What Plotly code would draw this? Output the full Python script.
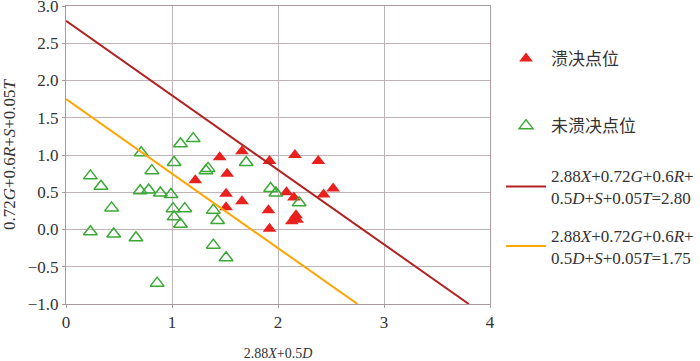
import plotly.graph_objects as go

# 溃决点位 (breached sites)
breach_x = [1.45, 1.66, 1.92, 2.16, 2.38, 1.22, 1.52, 1.51, 1.66, 1.51, 1.91, 1.92,
            2.08, 2.15, 2.43, 2.52, 2.13, 2.18, 2.17]
breach_y = [0.97, 1.05, 0.92, 1.00, 0.92, 0.66, 0.75, 0.48, 0.38, 0.30, 0.26, 0.01,
            0.50, 0.43, 0.47, 0.55, 0.11, 0.13, 0.19]

# 未溃决点位 (non-breached sites)
safe_x = [0.71, 1.08, 1.20, 0.23, 0.33, 0.81, 1.02, 1.32, 1.34, 1.70, 0.70, 0.78,
          0.89, 0.99, 0.43, 1.01, 1.12, 1.02, 1.08, 1.39, 1.43, 0.23, 0.45, 0.66,
          1.39, 1.51, 0.86, 1.93, 1.98, 2.20]
safe_y = [1.03, 1.15, 1.22, 0.72, 0.58, 0.79, 0.90, 0.79, 0.82, 0.90, 0.52, 0.53,
          0.49, 0.47, 0.29, 0.28, 0.28, 0.17, 0.07, 0.26, 0.12, -0.03, -0.06, -0.11,
          -0.21, -0.38, -0.72, 0.55, 0.49, 0.36]

# threshold lines: 2.88X+0.5D + (0.72G+0.6R+S+0.05T) = c
thresholds = [2.80, 1.75]
line_colors = ["#b22222", "#ffa500"]
y_min, y_max = -1.0, 3.0

font = "Liberation Serif, serif"
cjk = "Liberation Serif, Noto Sans CJK SC"

fig = go.Figure()

fig.add_trace(go.Scatter(
    x=breach_x, y=breach_y, mode="markers", name="溃决点位",
    marker=dict(symbol="triangle-up", size=12, color="#e8201e"),
    legend="legend"))

fig.add_trace(go.Scatter(
    x=safe_x, y=safe_y, mode="markers", name="未溃决点位",
    marker=dict(symbol="triangle-up-open", size=12, color="#3aa935",
                line=dict(width=1.5)),
    legend="legend2"))

legends = ["legend3", "legend4"]
for c, col, lg in zip(thresholds, line_colors, legends):
    xs = [0, c - y_min]
    ys = [c - v for v in xs]
    fig.add_trace(go.Scatter(
        x=xs, y=ys, mode="lines",
        name=("2.88<i>X</i>+0.72<i>G</i>+0.6<i>R</i>+<br>"
              "0.5<i>D</i>+<i>S</i>+0.05<i>T</i>=%.2f" % c),
        line=dict(color=col, width=2), legend=lg))

leg_common = dict(x=1.026, xanchor="left", yanchor="middle", itemwidth=40,
                  bgcolor="rgba(0,0,0,0)", font=dict(family=cjk, size=17, color="#333"))

grid = "#bfb3b6"
axis_common = dict(showgrid=True, gridcolor=grid, gridwidth=1, zeroline=False,
                   showline=True, linecolor="#a89a9d", linewidth=1, mirror=True,
                   ticks="outside", ticklen=3, tickcolor="#a89a9d",
                   automargin=False, ticklabeloverflow="allow",
                   tickfont=dict(family=font, size=17, color="#333"))

fig.update_layout(
    width=700, height=361,
    margin=dict(l=66, r=210, t=6, b=57, autoexpand=False),
    paper_bgcolor="white", plot_bgcolor="white",
    showlegend=True,
    font=dict(family=font, size=17, color="#333"),
    xaxis=dict(range=[0, 4], dtick=1,
               title=dict(text="2.88<i>X</i>+0.5<i>D</i>",
                          font=dict(family=font, size=14), standoff=20), **axis_common),
    yaxis=dict(range=[y_min, y_max + 1e-6], tick0=-1, dtick=0.5, tickformat=".1f",
               title=dict(text="0.72<i>G</i>+0.6<i>R</i>+<i>S</i>+0.05<i>T</i>",
                          font=dict(family=font, size=17), standoff=9), **axis_common),
    legend=dict(y=0.822, **leg_common),
    legend2=dict(y=0.597, **leg_common),
    legend3=dict(y=0.393, **leg_common),
    legend4=dict(y=0.193, **leg_common),
)

fig.write_html("out.html", config={"displayModeBar": False},
               post_script="document.body.style.margin='0';")
